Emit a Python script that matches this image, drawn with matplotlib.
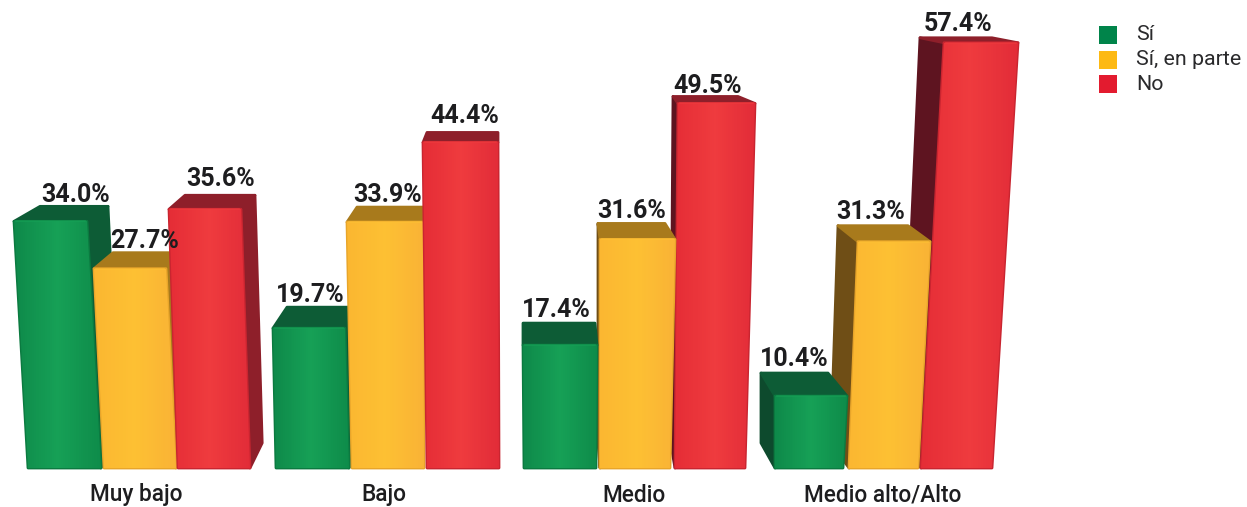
"""Barras pseudo-3D: Si / Si, en parte / No por nivel."""
import numpy as np
import matplotlib
matplotlib.use("Agg")
import matplotlib.pyplot as plt
from matplotlib.colors import LinearSegmentedColormap
from matplotlib.patches import Polygon, Rectangle

categories = ["Muy bajo", "Bajo", "Medio", "Medio alto/Alto"]
series = ["Sí", "Sí, en parte", "No"]
si = [34.0, 19.7, 17.4, 10.4]
si_parte = [27.7, 33.9, 31.6, 31.3]
no = [35.6, 44.4, 49.5, 57.4]
values = [si, si_parte, no]

# geometry of the fake perspective, in px, one row per category
X_BOT = [[28, 104, 178], [276, 352, 427], [524, 600, 675], [775, 849, 921]]
X_TOP = [[14, 94, 169], [273, 347, 423], [523, 600, 678], [775, 858, 944]]
W_BOT = [[73, 72, 72], [73, 72, 72], [72, 70, 70], [68, 69, 71]]
W_TOP = [[73, 72, 72], [72, 76, 75], [74, 75, 77], [72, 72, 74]]
BACK_L = [[40, 113, 185], [287, 357, 427], [523, 598, 673], [761, 838, 920]]
BACK_R = [[108, 172, 255], [348, 424, 498], [595, 665, 738], [828, 908, 992]]
DEPTH = [[15, 16, 14], [21, 15, 10], [22, 16, 7], [23, 16, 5]]
LABEL_X = [[76, 145, 221], [310, 388, 465], [556, 632, 708], [794, 871, 958]]
LABEL_GAP = [[4, 5, 9], [5, 5, 9], [6, 5, 3], [7, 7, 7]]
ORDER = [[0, 1, 2], [0, 1, 2], [2, 1, 0], [2, 1, 0]]
CAT_X = [136.5, 384, 634, 883]

FRONT = [["#0e8a4a", "#16a056", "#0e8c4a"],
         ["#fbb731", "#fdc033", "#f9b335"],
         ["#e52d36", "#ef3b3e", "#e22c38"]]
EDGE = ["#0b7a40", "#e8a52a", "#c92530"]
TOP = ["#0d5c36", "#a87a1c", "#8e1f2a"]
SIDE_L = ["#0d4a2d", "#6f4e16", "#5e1420"]
LEGEND = ["#00844a", "#fdb913", "#e31b2f"]
TXT = "#1d1d1f"
FONT = "Roboto"

PX_A, PX_P = 6.3, 1.04   # the printed bars are not quite linear in the value
BASE_PX = 468
H, W = 507, 1247


def fwd(v):
    v = np.asarray(v, dtype=float)
    return np.sign(v) * PX_A * np.abs(v) ** PX_P


def inv(p):
    p = np.asarray(p, dtype=float)
    return np.sign(p) * (np.abs(p) / PX_A) ** (1 / PX_P)


def lift(v, px):
    return float(inv(fwd(v) + px))


def face(ax, pts, color, z, edge=None):
    p = Polygon(pts, closed=True, facecolor=color, edgecolor=edge or color, lw=2,
                joinstyle="round", zorder=z)
    ax.add_patch(p)
    return p


fig = plt.figure(figsize=(W / 100, H / 100), dpi=100)
ax = fig.add_axes([0, 0, 1, 1])
ax.set_yscale("function", functions=(fwd, inv))
ax.set_xlim(0, W)
ax.set_ylim(float(inv(BASE_PX - H)), float(inv(BASE_PX)))
ax.axis("off")

z = 2
for g, cat in enumerate(categories):
    for s in ORDER[g]:
        v = values[s][g]
        xb, xt = X_BOT[g][s], X_TOP[g][s]
        xb2, xt2 = xb + W_BOT[g][s], xt + W_TOP[g][s]
        bl, br = BACK_L[g][s], BACK_R[g][s]
        y_back = lift(v, DEPTH[g][s])
        y_foot = lift(0, 25)
        drift = (xb - xt) * 0.8

        # side faces, only where the back sticks out past the front
        if br > xt2 + 1:
            face(ax, [(xt2, v), (br, y_back), (br + drift, y_foot), (xb2, 0)], TOP[s], z)
        if bl < xt - 1:
            face(ax, [(xt, v), (bl, y_back), (bl + drift, y_foot), (xb, 0)], SIDE_L[s], z)
        face(ax, [(xt, v), (bl, y_back), (br, y_back), (xt2, v)], TOP[s], z + 0.1)

        # front face, with a soft sideways shading
        front = face(ax, [(xt, v), (xt2, v), (xb2, 0), (xb, 0)], FRONT[s][0], z + 0.2, EDGE[s])
        cmap = LinearSegmentedColormap.from_list(f"f{s}", FRONT[s])
        gx = np.linspace(min(xt, xb), max(xt2, xb2), 40)
        mesh = ax.pcolormesh(gx, [0, v], np.linspace(0, 1, 39)[None, :], cmap=cmap,
                             shading="flat", zorder=z + 0.3, antialiased=False)
        mesh.set_clip_path(front)
        ax.plot([xt + 2, xt2 - 2], [v, v], color=FRONT[s][1], lw=1.2, alpha=0.7, zorder=z + 0.4)
        z += 1

        ax.annotate(f"{v:.1f}%", (LABEL_X[g][s], y_back), xytext=(0, LABEL_GAP[g][s] * 0.72),
                    textcoords="offset points", ha="center", va="baseline", fontsize=18,
                    fontweight="bold", family=FONT, color=TXT, zorder=50)
    fig.text(CAT_X[g] / W, 1 - 495 / H, cat, ha="center", va="center", fontsize=16.3,
             fontweight="medium", family=FONT, color=TXT)

# legend drawn by hand, tight squares like the original
for i, (name, col) in enumerate(zip(series, LEGEND)):
    yc = 35 + i * 24.5
    fig.add_artist(Rectangle((1099 / W, 1 - (yc + 9) / H), 18 / W, 18 / H,
                             transform=fig.transFigure, facecolor=col, edgecolor="none"))
    fig.text(1136 / W, 1 - yc / H, name, ha="left", va="center", fontsize=15.4,
             family=FONT, color="#2a2a2c")

fig.savefig("out.png", dpi=100)
